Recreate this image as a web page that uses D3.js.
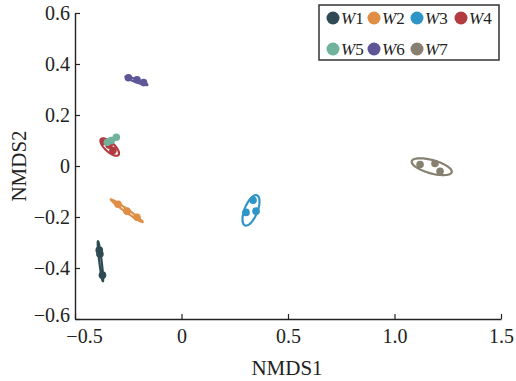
<!DOCTYPE html>
<html>
<head>
<meta charset="utf-8">
<title>NMDS</title>
<style>
  body{margin:0;background:#fff;}
  svg text{font-family:"Liberation Serif","Times New Roman",serif;fill:#222;}
</style>
</head>
<body>
<div id="chart"></div>
<script src="https://d3js.org/d3.v7.min.js"></script>
<script>
const groups = ['W1','W2','W3','W4','W5','W6','W7'];
const colors = ['#2e4a52','#e08d45','#2f95c6','#b23b40','#70b29b','#5d5797','#878070'];
// NMDS scores, three samples per group
const nmds1 = [
  [-0.386,-0.383,-0.371],
  [-0.298,-0.256,-0.209],
  [0.336,0.303,0.350],
  [-0.364,-0.322,-0.340],
  [-0.348,-0.330,-0.306],
  [-0.249,-0.209,-0.178],
  [1.120,1.190,1.214]
];
const nmds2 = [
  [-0.330,-0.345,-0.428],
  [-0.150,-0.177,-0.201],
  [-0.134,-0.182,-0.177],
  [0.096,0.061,0.082],
  [0.093,0.100,0.113],
  [0.346,0.338,0.327],
  [0.006,0.010,-0.021]
];
// ellipse per group: ends of the long axis (NMDS1, NMDS2) and short/long ratio
const ellX1 = [-0.392,-0.332,0.3545,-0.378,-0.351,-0.263,1.081];
const ellY1 = [-0.295,-0.131,-0.115,0.1055,0.0969,0.350,0.0187];
const ellX2 = [-0.369,-0.182,0.298,-0.296,-0.297,-0.160,1.2685];
const ellY2 = [-0.452,-0.220,-0.233,0.043,0.1164,0.318,-0.0243];
const ellRatio = [0.06,0.08,0.40,0.40,0.12,0.12,0.32];

const xTicks = [-0.5,0,0.5,1.0,1.5];
const xTickLabels = ['\u22120.5','0','0.5','1.0','1.5'];
const yTicks = [-0.6,-0.4,-0.2,0,0.2,0.4,0.6];
const yTickLabels = ['\u22120.6','\u22120.4','\u22120.2','0','0.2','0.4','0.6'];

const W = 516, H = 381;
const m = {top:13, right:15, bottom:62, left:75};

const svg = d3.select('#chart').append('svg').attr('width',W).attr('height',H);
const x = d3.scaleLinear().domain([-0.5,1.5]).range([m.left, W-m.right]);
const y = d3.scaleLinear().domain([-0.6,0.6]).range([H-m.bottom, m.top]);

const xAxis = d3.axisBottom(x).tickValues(xTicks).tickSizeInner(-5).tickSizeOuter(0)
  .tickFormat((d,i)=>xTickLabels[i]);
const yAxis = d3.axisLeft(y).tickValues(yTicks).tickSizeInner(-5).tickSizeOuter(0)
  .tickFormat((d,i)=>yTickLabels[i]);

const gx = svg.append('g').attr('transform','translate(0,'+(H-m.bottom)+')').call(xAxis);
const gy = svg.append('g').attr('transform','translate('+m.left+',0)').call(yAxis);
[gx,gy].forEach(g=>{
  g.select('.domain').attr('stroke','#222').attr('stroke-width',1.4);
  g.selectAll('.tick line').attr('stroke','#222').attr('stroke-width',1.2);
  g.selectAll('.tick text').attr('font-size',20).attr('fill','#222')
    .style('font-family','"Liberation Serif","Times New Roman",serif');
});
// first x label sits a bit right of its tick, clear of the -0.6 label
gx.selectAll('.tick text').attr('y',10).attr('dy','0.71em').attr('x',(d,i)=>i===0 ? 9 : 0);
gy.selectAll('.tick text').attr('x',-5).attr('dy',(d,i)=>i===0 ? '0.1em' : '0.32em');

svg.append('text').attr('x',287).attr('y',375).attr('text-anchor','middle')
  .attr('font-size',21).text('NMDS1');
svg.append('text').attr('transform','translate(26,'+y(0)+') rotate(-90)').attr('text-anchor','middle')
  .attr('font-size',21).text('NMDS2');

function ellipsePath(gi){
  const p1 = [x(ellX1[gi]), y(ellY1[gi])], p2 = [x(ellX2[gi]), y(ellY2[gi])];
  const cx = (p1[0]+p2[0])/2, cy = (p1[1]+p2[1])/2;
  const a = Math.hypot(p2[0]-p1[0], p2[1]-p1[1])/2, b = a*ellRatio[gi];
  const ang = Math.atan2(p2[1]-p1[1], p2[0]-p1[0]);
  const pts = d3.range(0, 72).map(k=>{
    const t = k/72*2*Math.PI;
    const ex = a*Math.cos(t), ey = b*Math.sin(t);
    return [cx + ex*Math.cos(ang) - ey*Math.sin(ang), cy + ex*Math.sin(ang) + ey*Math.cos(ang)];
  });
  return d3.line().curve(d3.curveLinearClosed)(pts);
}

groups.forEach((gname,gi)=>{
  const g = svg.append('g');
  g.append('path').attr('d', ellipsePath(gi))
    .attr('fill','none').attr('stroke',colors[gi]).attr('stroke-width',2.2);
  g.selectAll('circle').data(nmds1[gi]).enter().append('circle')
    .attr('cx',d=>x(d)).attr('cy',(d,i)=>y(nmds2[gi][i])).attr('r',3.8)
    .attr('fill',colors[gi]);
});

// legend
const legend = svg.append('g');
legend.append('rect').attr('x',319).attr('y',5).attr('width',180).attr('height',55)
  .attr('fill','#fff').attr('stroke','#333').attr('stroke-width',1.5);
const colX = [333,374,417,461];
groups.forEach((gname,gi)=>{
  const cx = colX[gi%4], cy = gi<4 ? 18 : 49;
  legend.append('circle').attr('cx',cx).attr('cy',cy).attr('r',6.5).attr('fill',colors[gi]);
  const t = legend.append('text').attr('x',cx+8).attr('y',cy+6).attr('font-size',17);
  t.append('tspan').attr('font-style','italic').text(gname[0]);
  t.append('tspan').text(gname.slice(1));
});
</script>
</body>
</html>
